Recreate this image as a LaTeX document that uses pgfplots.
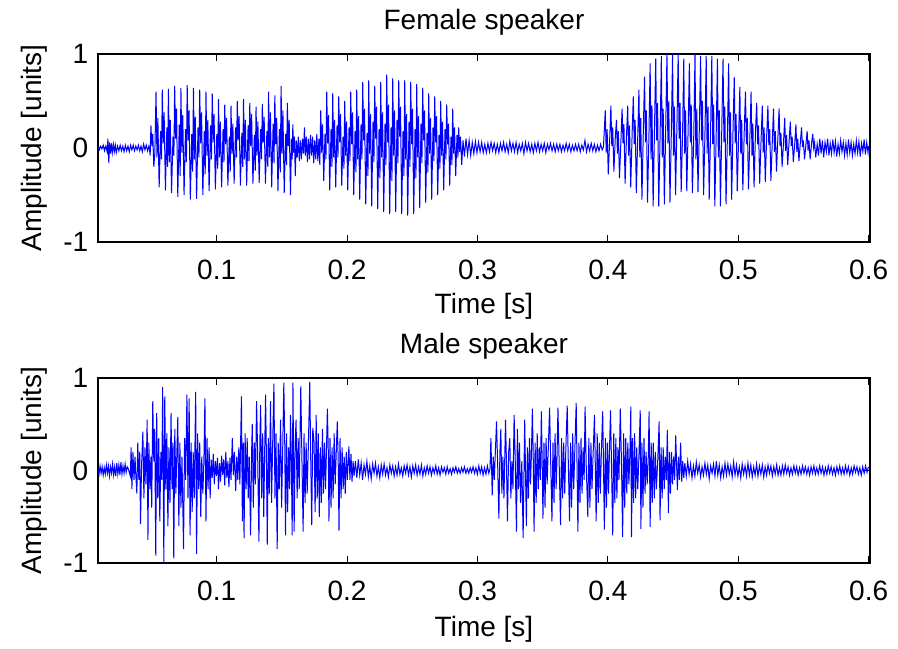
\documentclass[border=0pt]{standalone}
\usepackage{fontspec}
\setmainfont{Liberation Sans}
\usepackage{pgfplots}
\pgfplotsset{compat=1.18}
\pgfplotsset{speech/.style={
  scale only axis, width=386pt,
  xmin=9, xmax=601, ymin=-1, ymax=1,
  xtick={100,200,300,400,500,600}, xticklabels={0.1,0.2,0.3,0.4,0.5,0.6},
  ytick={-1,0,1},
  tick align=inside, major tick length=3.5pt,
  tick style={black, line width=0.5pt},
  axis line style={black, line width=0.6pt},
  /pgf/number format/assume math mode=true,
  tick label style={font=\fontsize{14}{16}\selectfont},
  xticklabel style={yshift=-4pt},
  label style={font=\fontsize{14}{16}\selectfont},
  title style={font=\fontsize{14}{16}\selectfont, at={(axis description cs:0.5,1)}, anchor=center, yshift=10pt},
  xlabel={Time [s]}, ylabel={Amplitude [units]},
  ylabel style={at={(axis description cs:-0.0829,0.5)}, anchor=center},
}}
\begin{document}
\fontsize{14}{16}\selectfont
\begin{tikzpicture}
\useasboundingbox (-49pt,-42.5pt) rectangle (400pt,281.5pt);
% ---------------- Female speaker ----------------
\begin{axis}[speech, at={(0,160.5pt)}, height=94pt, title={Female speaker},
  xlabel style={at={(axis description cs:0.5,0)}, anchor=center, yshift=-32pt}]
\addplot[blue, line width=0.5pt, no markers] table[row sep=\\] {
9.0 .01\\ 10.0 -.02\\ 11.0 .02\\ 12.0 -.01\\ 13.0 .03\\ 14.0 -.03\\ 15.0 .02\\ 16.0 -.04\\ 16.6 .10\\ 17.3 -.16\\
17.9 .06\\ 18.6 -.06\\ 19.3 .05\\ 20.0 -.05\\ 20.8 .04\\ 21.5 -.04\\ 22.3 .03\\ 23.0 -.05\\ 24.0 .02\\ 25.0 -.03\\
26.0 .03\\ 27.0 -.03\\ 28.0 .02\\ 29.0 -.04\\ 30.0 .03\\ 31.0 -.03\\ 32.0 .02\\ 33.0 -.04\\ 34.0 .03\\ 35.0 -.02\\
36.0 .03\\ 37.0 -.03\\ 38.0 .02\\ 39.0 -.02\\ 40.0 .03\\ 41.0 -.03\\ 42.0 .02\\ 43.0 -.04\\ 44.0 .04\\ 45.0 -.02\\
46.0 .03\\ 47.0 -.03\\ 48.0 .02\\
48.4 .00\\ 49.0 -.08\\ 49.6 .24\\ 50.3 .02\\ 51.0 .15\\ 51.8 -.20\\ 52.6 -.05\\
53.5 .60\\ 54.2 -.10\\ 54.9 .32\\ 55.9 -.42\\ 57.0 .18\\ 57.7 -.12\\
58.3 .62\\ 59.0 .05\\ 59.7 .38\\ 60.7 -.45\\ 61.8 .22\\ 62.4 -.20\\
63.0 .63\\ 63.7 -.15\\ 64.4 .30\\ 65.4 -.48\\ 66.5 .12\\ 67.2 -.08\\
67.8 .66\\ 68.5 .10\\ 69.2 .42\\ 70.2 -.52\\ 71.3 .25\\ 72.0 -.30\\
72.6 .64\\ 73.3 -.05\\ 74.0 .35\\ 75.0 -.50\\ 76.1 .20\\ 76.8 -.15\\
77.4 .67\\ 78.1 .08\\ 78.8 .40\\ 79.8 -.55\\ 80.9 .15\\ 81.6 -.25\\
82.2 .64\\ 82.9 -.12\\ 83.6 .33\\ 84.6 -.54\\ 85.7 .22\\ 86.4 -.10\\
87.0 .62\\ 87.7 .05\\ 88.4 .38\\ 89.4 -.50\\ 90.5 .18\\ 91.2 -.28\\
91.8 .60\\ 92.5 -.08\\ 93.2 .30\\ 94.2 -.46\\ 95.3 .24\\ 96.0 -.12\\
96.6 .58\\ 97.3 .06\\ 98.0 .36\\ 99.0 -.44\\ 100.1 .15\\ 100.8 -.22\\
101.4 .52\\ 102.1 -.10\\ 102.8 .28\\ 103.8 -.42\\ 104.9 .20\\ 105.6 -.15\\
106.2 .46\\ 106.9 .04\\ 107.6 .32\\ 108.6 -.40\\ 109.7 .12\\ 110.4 -.25\\
111.0 .45\\ 111.7 -.06\\ 112.4 .26\\ 113.4 -.38\\ 114.5 .22\\ 115.2 -.10\\
115.8 .50\\ 116.5 .08\\ 117.2 .34\\ 118.2 -.40\\ 119.3 .16\\ 120.0 -.20\\
120.6 .52\\ 121.3 -.12\\ 122.0 .30\\ 123.0 -.40\\ 124.1 .24\\ 124.8 -.14\\
125.4 .48\\ 126.1 .02\\ 126.8 .36\\ 127.8 -.38\\ 128.9 .14\\ 129.6 -.24\\
130.2 .44\\ 130.9 -.08\\ 131.6 .28\\ 132.6 -.37\\ 133.7 .20\\ 134.4 -.12\\
135.0 .47\\ 135.7 .06\\ 136.4 .33\\ 137.4 -.38\\ 138.5 .18\\ 139.2 -.20\\
139.8 .60\\ 140.5 -.10\\ 141.2 .38\\ 142.2 -.42\\ 143.3 .26\\ 144.0 -.16\\
144.6 .56\\ 145.3 .04\\ 146.0 .32\\ 147.0 -.46\\ 148.1 .20\\ 148.8 -.26\\
149.4 .66\\ 150.1 -.06\\ 150.8 .40\\ 151.8 -.48\\ 152.9 .15\\ 153.6 -.18\\
154.2 .48\\ 154.9 .02\\ 155.6 .30\\ 156.6 -.50\\ 157.4 .10\\ 157.9 -.12\\
158.4 .25\\ 159.0 -.05\\ 159.6 .12\\ 160.3 -.30\\ 161.0 .08\\
161.8 -.10\\ 162.6 .12\\ 163.4 -.14\\ 164.2 .08\\ 165.0 -.12\\ 165.8 .10\\ 166.6 -.06\\ 167.3 .22\\ 168.0 -.08\\ 168.8 .12\\
169.6 -.15\\ 170.4 .10\\ 171.2 -.12\\ 172.0 .14\\ 172.8 -.08\\ 173.6 .12\\ 174.4 -.16\\ 175.2 .08\\ 176.0 -.12\\ 176.8 .15\\
177.6 -.14\\ 178.4 .10\\ 179.1 -.18\\
179.8 .40\\ 180.5 -.05\\ 181.2 .25\\ 182.1 -.35\\ 183.1 .15\\ 183.8 -.12\\
184.4 .60\\ 185.1 .05\\ 185.8 .35\\ 186.7 -.45\\ 187.7 .20\\ 188.4 -.20\\
189.0 .58\\ 189.7 -.10\\ 190.4 .30\\ 191.3 -.42\\ 192.3 .24\\ 193.0 -.10\\
193.6 .55\\ 194.3 .06\\ 195.0 .36\\ 195.9 -.40\\ 196.9 .12\\ 197.6 -.22\\
198.2 .50\\ 198.9 -.08\\ 199.6 .28\\ 200.5 -.45\\ 201.5 .22\\ 202.2 -.14\\
202.8 .60\\ 203.5 .04\\ 204.2 .38\\ 205.1 -.50\\ 206.1 .18\\ 206.8 -.26\\
207.4 .62\\ 208.1 -.12\\ 208.8 .34\\ 209.7 -.55\\ 210.7 .25\\ 211.4 -.12\\
212.0 .70\\ 212.7 .08\\ 213.4 .42\\ 214.3 -.60\\ 215.3 .16\\ 216.0 -.30\\
216.6 .72\\ 217.3 -.06\\ 218.0 .36\\ 218.9 -.62\\ 219.9 .28\\ 220.6 -.15\\
221.2 .66\\ 221.9 .10\\ 222.6 .44\\ 223.5 -.65\\ 224.5 .20\\ 225.2 -.32\\
225.8 .70\\ 226.5 -.10\\ 227.2 .38\\ 228.1 -.68\\ 229.1 .26\\ 229.8 -.18\\
230.4 .78\\ 231.1 .06\\ 231.8 .46\\ 232.7 -.70\\ 233.7 .22\\ 234.4 -.35\\
235.0 .74\\ 235.7 -.08\\ 236.4 .40\\ 237.3 -.68\\ 238.3 .30\\ 239.0 -.16\\
239.6 .72\\ 240.3 .12\\ 241.0 .44\\ 241.9 -.70\\ 242.9 .18\\ 243.6 -.30\\
244.2 .72\\ 244.9 -.12\\ 245.6 .36\\ 246.5 -.72\\ 247.5 .28\\ 248.2 -.20\\
248.8 .70\\ 249.5 .04\\ 250.2 .42\\ 251.1 -.70\\ 252.1 .20\\ 252.8 -.32\\
253.4 .68\\ 254.1 -.10\\ 254.8 .34\\ 255.7 -.64\\ 256.7 .26\\ 257.4 -.16\\
258.0 .64\\ 258.7 .08\\ 259.4 .40\\ 260.3 -.58\\ 261.3 .16\\ 262.0 -.26\\
262.6 .58\\ 263.3 -.06\\ 264.0 .32\\ 264.9 -.55\\ 265.9 .22\\ 266.6 -.14\\
267.2 .55\\ 267.9 .06\\ 268.6 .34\\ 269.5 -.50\\ 270.5 .14\\ 271.2 -.22\\
271.8 .50\\ 272.5 -.08\\ 273.2 .28\\ 274.1 -.45\\ 275.1 .20\\ 275.8 -.12\\
276.4 .46\\ 277.1 .04\\ 277.8 .26\\ 278.7 -.40\\ 279.7 .12\\ 280.4 -.18\\
281.0 .42\\ 281.7 -.06\\ 282.4 .22\\ 283.3 -.30\\ 284.3 .14\\ 285.0 -.10\\
285.6 .22\\ 286.3 -.04\\ 287.0 .12\\ 287.9 -.18\\ 288.9 .08\\
290.0 -.09\\ 291.2 .10\\ 292.4 -.07\\ 293.6 .08\\ 294.8 -.08\\ 296.0 .06\\ 297.2 -.06\\ 298.4 .07\\ 299.6 -.05\\ 300.8 .06\\
302.0 -.04\\ 303.2 .06\\ 304.4 -.05\\ 305.6 .04\\ 306.8 -.05\\ 308.0 .05\\ 309.2 -.04\\ 310.4 .06\\ 311.6 -.03\\ 312.8 .05\\
314.0 -.05\\ 315.2 .04\\ 316.4 -.05\\ 317.6 .05\\ 318.8 -.03\\ 320.0 .06\\ 321.2 -.04\\ 322.4 .04\\ 323.6 -.05\\ 324.8 .07\\
326.0 -.03\\ 327.2 .05\\ 328.4 -.04\\ 329.6 .06\\ 330.8 -.05\\ 332.0 .04\\ 333.2 -.03\\ 334.4 .05\\ 335.6 -.06\\ 336.8 .06\\
338.0 -.03\\ 339.2 .05\\ 340.4 -.04\\ 341.6 .04\\ 342.8 -.05\\ 344.0 .05\\ 345.2 -.03\\ 346.4 .06\\ 347.6 -.04\\ 348.8 .04\\
350.0 -.03\\ 351.2 .05\\ 352.4 -.05\\ 353.6 .04\\ 354.8 -.02\\ 356.0 .05\\ 357.2 -.03\\ 358.4 .04\\ 359.6 -.04\\ 360.8 .04\\
362.0 -.03\\ 363.2 .04\\ 364.4 -.04\\ 365.6 .03\\ 366.8 -.03\\ 368.0 .05\\ 369.2 -.03\\ 370.4 .04\\ 371.6 -.04\\ 372.8 .03\\
374.0 -.03\\ 375.2 .04\\ 376.4 -.03\\ 377.6 .04\\ 378.8 -.04\\ 380.0 .03\\ 381.2 -.02\\ 382.4 .08\\ 383.6 -.04\\ 384.8 .04\\
386.0 -.03\\ 387.2 .05\\ 388.4 -.03\\ 389.6 .04\\ 390.8 -.04\\ 392.0 .03\\ 393.2 -.03\\ 394.4 .04\\ 395.6 -.02\\ 396.6 .01\\
398.0 .40\\ 398.7 -.05\\ 399.4 .20\\ 400.3 -.28\\ 401.4 .10\\
402.3 .45\\ 403.0 .02\\ 403.7 .22\\ 404.6 -.25\\ 405.7 .12\\
406.6 .30\\ 407.3 -.06\\ 408.0 .18\\ 408.9 -.32\\ 410.0 .08\\
410.9 .42\\ 411.6 .05\\ 412.3 .25\\ 413.2 -.38\\ 414.3 .14\\
415.2 .45\\ 415.9 -.08\\ 416.6 .24\\ 417.5 -.42\\ 418.6 .16\\
419.5 .55\\ 420.2 .04\\ 420.9 .30\\ 421.8 -.48\\ 422.9 .12\\
423.8 .62\\ 424.5 -.10\\ 425.2 .32\\ 426.1 -.55\\ 427.2 .20\\
428.1 .76\\ 428.8 .06\\ 429.5 .40\\ 430.4 -.58\\ 431.5 .15\\
432.4 .90\\ 433.1 -.12\\ 433.8 .45\\ 434.7 -.62\\ 435.8 .25\\
436.7 .95\\ 437.4 .08\\ 438.1 .48\\ 439.0 -.62\\ 440.1 .18\\
441.0 .98\\ 441.7 -.10\\ 442.4 .42\\ 443.3 -.60\\ 444.4 .26\\
445.3 1.00\\ 446.0 .05\\ 446.7 .50\\ 447.6 -.58\\ 448.7 .20\\
449.6 1.00\\ 450.3 -.08\\ 451.0 .44\\ 451.9 -.50\\ 453.0 .28\\
453.9 1.00\\ 454.6 .10\\ 455.3 .48\\ 456.2 -.47\\ 457.3 .18\\
458.2 .95\\ 458.9 -.06\\ 459.6 .40\\ 460.5 -.46\\ 461.6 .24\\
462.5 .90\\ 463.2 .06\\ 463.9 .46\\ 464.8 -.48\\ 465.9 .16\\
466.8 1.00\\ 467.5 -.12\\ 468.2 .42\\ 469.1 -.47\\ 470.2 .26\\
471.1 .98\\ 471.8 .08\\ 472.5 .50\\ 473.4 -.50\\ 474.5 .20\\
475.4 .98\\ 476.1 -.06\\ 476.8 .44\\ 477.7 -.55\\ 478.8 .22\\
479.7 .98\\ 480.4 .04\\ 481.1 .46\\ 482.0 -.62\\ 483.1 .18\\
484.0 .95\\ 484.7 -.10\\ 485.4 .40\\ 486.3 -.62\\ 487.4 .25\\
488.3 .95\\ 489.0 .06\\ 489.7 .44\\ 490.6 -.60\\ 491.7 .16\\
492.6 .90\\ 493.3 -.08\\ 494.0 .38\\ 494.9 -.55\\ 496.0 .22\\
496.9 .75\\ 497.6 .05\\ 498.3 .36\\ 499.2 -.46\\ 500.3 .15\\
501.2 .65\\ 501.9 -.06\\ 502.6 .30\\ 503.5 -.45\\ 504.6 .20\\
505.5 .60\\ 506.2 .04\\ 506.9 .32\\ 507.8 -.44\\ 508.9 .12\\
509.8 .60\\ 510.5 -.08\\ 511.2 .26\\ 512.1 -.42\\ 513.2 .18\\
514.1 .48\\ 514.8 .04\\ 515.5 .24\\ 516.4 -.38\\ 517.5 .10\\
518.4 .45\\ 519.1 -.05\\ 519.8 .22\\ 520.7 -.36\\ 521.8 .14\\
522.7 .45\\ 523.4 .03\\ 524.1 .20\\ 525.0 -.35\\ 526.1 .08\\
527.0 .42\\ 527.7 -.04\\ 528.4 .18\\ 529.3 -.25\\ 530.4 .12\\
531.3 .42\\ 532.0 .02\\ 532.7 .16\\ 533.6 -.20\\ 534.7 .06\\
535.6 .32\\ 536.3 -.03\\ 537.0 .14\\ 537.9 -.18\\ 539.0 .08\\
539.9 .28\\ 540.6 .02\\ 541.3 .12\\ 542.2 -.15\\ 543.3 .05\\
544.2 .25\\ 544.9 -.04\\ 545.6 .10\\ 546.5 -.14\\ 547.6 .06\\
548.5 .22\\ 549.2 .01\\ 549.9 .08\\ 550.8 -.12\\ 551.9 .04\\
552.8 .18\\ 553.5 -.03\\ 554.2 .08\\ 555.1 -.12\\ 556.2 .05\\
557.1 .15\\ 557.8 .00\\ 558.5 .06\\ 559.4 -.10\\ 560.5 .04\\
561.5 -.08\\ 562.5 .10\\ 563.5 -.06\\ 564.5 .08\\ 565.5 -.10\\ 566.5 .06\\ 567.5 -.04\\ 568.5 .10\\ 569.5 -.08\\ 570.5 .05\\
571.5 -.06\\ 572.5 .09\\ 573.5 -.05\\ 574.5 .07\\ 575.5 -.09\\ 576.5 .04\\ 577.5 -.06\\ 578.5 .08\\ 579.5 -.04\\ 580.5 .06\\
581.5 -.08\\ 582.5 .05\\ 583.5 -.07\\ 584.5 .09\\ 585.5 -.05\\ 586.5 .06\\ 587.5 -.08\\ 588.5 .04\\ 589.5 -.06\\ 590.5 .08\\
591.5 -.05\\ 592.5 .07\\ 593.5 -.09\\ 594.5 .05\\ 595.5 -.04\\ 596.5 .09\\ 597.5 -.07\\ 598.5 .06\\ 599.5 -.05\\ 600.0 .02\\
};
\end{axis}
% ---------------- Male speaker ----------------
\begin{axis}[speech, at={(0,0)}, height=92.5pt, title={Male speaker},
  xlabel style={at={(axis description cs:0.5,0)}, anchor=center, yshift=-33pt}]
\addplot[blue, line width=0.5pt, no markers] table[row sep=\\] {
9.0 .02\\ 9.8 -.04\\ 10.6 .05\\ 11.4 -.03\\ 12.2 .04\\ 13.0 -.05\\ 13.8 .03\\ 14.6 -.04\\ 15.4 .06\\ 16.2 -.03\\
17.0 .05\\ 17.8 -.06\\ 18.6 .04\\ 19.4 -.03\\ 20.2 .07\\ 21.0 -.05\\ 21.8 .04\\ 22.6 -.06\\ 23.4 .08\\ 24.2 -.04\\
25.0 .06\\ 25.8 -.05\\ 26.6 .09\\ 27.4 -.04\\ 28.2 .05\\ 29.0 -.03\\ 29.8 .07\\ 30.6 -.02\\ 31.4 .04\\ 32.2 .02\\
33.0 -.02\\ 33.8 -.06\\
34.4 .25\\ 35.0 -.20\\ 35.8 .20\\ 36.6 -.10\\ 37.4 .15\\ 38.0 -.05\\ 38.8 -.25\\
39.5 .30\\ 40.3 -.10\\ 41.0 .20\\ 41.6 -.58\\ 42.4 .05\\ 43.4 .42\\ 44.2 -.30\\ 45.0 .25\\ 45.8 -.15\\ 46.7 .55\\
47.3 -.75\\ 48.0 .30\\ 48.8 -.20\\ 49.6 .15\\ 50.2 -.40\\ 51.0 .75\\ 51.8 .10\\ 52.5 .45\\ 53.3 -.92\\ 54.0 .62\\
54.8 -.30\\ 55.6 .35\\ 56.4 -.55\\ 57.2 .20\\ 57.9 -.10\\ 58.6 .90\\ 59.5 -1.00\\ 60.2 .80\\ 61.0 -.20\\ 61.8 .40\\
62.6 -.60\\ 63.4 .25\\ 64.2 -.35\\ 65.0 .62\\ 65.8 -.20\\ 66.5 .30\\ 67.1 -.95\\ 67.9 .45\\ 68.7 -.25\\ 69.5 .20\\
70.2 .58\\ 71.0 -.60\\ 71.8 .30\\ 72.6 -.40\\ 73.4 .15\\ 74.6 -.85\\ 75.4 .35\\ 76.2 -.10\\ 77.2 .82\\ 78.0 -.30\\
78.9 .78\\ 79.6 -.70\\ 80.4 .30\\ 81.2 -.45\\ 82.0 .20\\ 82.8 -.30\\ 83.9 .85\\ 84.6 -.90\\ 85.4 .40\\ 86.2 -.20\\
87.0 .30\\ 87.8 -.50\\ 88.6 .15\\ 89.4 -.25\\ 90.2 .10\\ 91.0 .78\\ 91.8 -.55\\ 92.6 .35\\ 93.4 -.20\\ 94.2 .25\\
95.0 -.30\\
95.8 .12\\ 96.6 -.08\\ 97.4 .18\\ 98.2 -.15\\ 99.0 .10\\ 99.8 -.06\\ 100.6 .14\\ 101.4 -.20\\ 102.2 .08\\ 103.0 -.12\\
103.8 .16\\ 104.6 -.05\\ 105.4 .12\\ 106.2 -.16\\ 107.0 .20\\ 107.8 -.08\\ 108.6 .10\\ 109.4 -.18\\ 110.2 .14\\ 111.0 -.10\\
112.0 .35\\ 112.8 -.05\\ 113.6 .20\\ 114.6 -.22\\ 115.4 .15\\ 116.2 -.10\\ 117.0 .25\\ 117.8 -.15\\ 119.0 .80\\ 119.7 -.55\\
120.4 .30\\ 121.0 -.73\\ 121.8 .40\\ 122.6 -.20\\ 123.4 .35\\ 124.2 -.30\\ 125.0 .15\\ 126.0 -.70\\ 126.8 .20\\ 127.3 .50\\
128.1 -.40\\ 128.9 .30\\ 129.7 -.15\\ 130.6 .75\\ 131.4 .20\\ 132.4 -.77\\ 133.1 .30\\ 133.7 .71\\ 134.5 -.30\\ 135.3 .40\\
136.1 -.50\\ 136.8 .20\\ 137.5 .82\\ 138.2 .10\\ 138.8 -.80\\ 139.6 .35\\ 140.4 -.25\\ 141.3 .75\\ 142.1 -.35\\ 142.9 .25\\
143.9 .94\\ 144.7 -.30\\ 145.5 .40\\ 146.4 -.85\\ 147.2 .30\\ 148.0 -.20\\ 149.0 .55\\ 149.8 -.40\\ 150.6 .20\\ 151.5 .95\\
152.2 .30\\ 152.8 -.70\\ 153.6 .40\\ 154.4 -.45\\ 155.2 .25\\ 156.0 -.20\\ 156.6 .60\\ 157.3 .10\\ 157.9 -.70\\ 158.5 .95\\
159.4 -.66\\ 160.2 .30\\ 160.9 .55\\ 161.7 -.30\\ 162.5 .35\\ 163.3 -.20\\ 164.5 .91\\ 165.3 .20\\ 166.3 -.66\\ 167.0 .40\\
167.8 -.35\\ 168.6 .30\\ 169.4 -.25\\ 170.2 .20\\ 171.4 .96\\ 172.1 .15\\ 172.9 -.59\\ 173.7 .46\\ 174.7 .30\\ 175.5 -.45\\
176.3 .60\\ 177.1 -.30\\ 177.9 .40\\ 178.7 -.50\\ 179.5 .25\\ 180.3 -.35\\ 181.1 .45\\ 181.9 -.25\\ 182.7 .30\\ 183.5 -.20\\
184.9 .67\\ 185.6 .20\\ 186.1 -.55\\ 186.9 .35\\ 187.7 -.40\\ 188.5 .25\\ 189.3 -.30\\ 190.1 .40\\ 190.9 -.15\\ 191.7 .20\\
192.5 .53\\ 193.2 .10\\ 193.8 -.65\\ 194.6 .35\\ 195.4 -.30\\ 196.2 .25\\ 197.0 -.20\\ 197.8 .15\\ 198.6 -.25\\ 199.4 .20\\
200.2 -.10\\ 201.4 .26\\ 202.2 -.10\\ 203.0 .18\\ 203.8 -.12\\ 204.6 .10\\ 205.4 -.06\\
206.4 .10\\ 207.5 -.08\\ 208.6 .12\\ 209.7 -.05\\ 210.8 .08\\ 211.9 -.10\\ 213.0 .06\\ 214.1 -.04\\ 215.2 .10\\ 216.3 -.07\\
217.4 .05\\ 218.5 -.09\\ 219.6 .07\\ 220.7 -.03\\ 221.8 .08\\ 222.9 -.06\\ 224.0 .04\\ 225.1 -.08\\ 226.2 .06\\ 227.3 -.04\\
228.4 .07\\ 229.5 -.05\\ 230.6 .03\\ 231.7 -.07\\ 232.8 .06\\ 233.9 -.03\\ 235.0 .05\\ 236.1 -.06\\ 237.2 .04\\ 238.3 -.05\\
239.4 .07\\ 240.5 -.04\\ 241.6 .03\\ 242.7 -.06\\ 243.8 .05\\ 244.9 -.03\\ 246.0 .06\\ 247.1 -.05\\ 248.2 .04\\ 249.3 -.07\\
250.4 .05\\ 251.5 -.03\\ 252.6 .06\\ 253.7 -.05\\ 254.8 .04\\ 255.9 -.04\\ 257.0 .06\\ 258.1 -.06\\ 259.2 .03\\ 260.3 -.04\\
261.4 .05\\ 262.5 -.03\\ 263.6 .04\\ 264.7 -.05\\ 265.8 .03\\ 266.9 -.03\\ 268.0 .05\\ 269.1 -.04\\ 270.2 .03\\ 271.3 -.05\\
272.4 .04\\ 273.5 -.02\\ 274.6 .03\\ 275.7 -.04\\ 276.8 .04\\ 277.9 -.03\\ 279.0 .02\\ 280.1 -.04\\ 281.2 .03\\ 282.3 -.02\\
283.4 .04\\ 284.5 -.03\\ 285.6 .02\\ 286.7 -.03\\ 287.8 .03\\ 288.9 -.02\\ 290.0 .04\\ 291.1 -.03\\ 292.2 .02\\ 293.3 -.03\\
294.4 .03\\ 295.5 -.02\\ 296.6 .04\\ 297.7 -.03\\ 298.8 .03\\ 299.9 -.04\\ 301.0 .05\\ 302.1 -.03\\ 303.2 .04\\ 304.3 -.05\\
305.4 .03\\ 306.5 -.04\\ 307.6 .05\\ 308.7 -.03\\ 309.6 .02\\
310.3 .35\\ 311.3 -.27\\ 312.1 .15\\ 312.9 -.10\\ 313.7 .20\\ 314.6 .53\\ 315.5 .05\\ 316.4 -.52\\ 317.2 .20\\ 317.9 .45\\
318.7 -.25\\ 319.5 .15\\ 320.3 -.30\\ 321.5 .55\\ 322.2 .10\\ 323.0 -.55\\ 323.9 .20\\ 324.8 .35\\ 325.6 -.30\\ 326.4 .10\\
327.2 -.20\\ 328.1 .60\\ 328.9 .15\\ 329.9 -.66\\ 330.6 .45\\ 331.4 -.20\\ 332.2 .30\\ 333.0 -.35\\ 334.0 .10\\ 335.0 -.73\\
336.2 .55\\ 337.5 -.60\\ 338.3 .25\\ 339.1 -.30\\ 339.9 .35\\ 340.7 -.15\\ 341.4 .20\\ 342.1 .67\\ 342.8 .10\\ 343.4 -.66\\
344.2 .30\\ 345.0 -.35\\ 345.8 .40\\ 346.6 -.20\\ 347.4 .25\\ 348.2 -.10\\ 349.0 .64\\ 349.6 .10\\ 350.2 -.52\\ 351.0 .30\\
351.8 -.40\\ 352.6 .35\\ 353.4 -.15\\ 354.2 .20\\ 355.3 .68\\ 356.2 .05\\ 357.1 -.55\\ 357.9 .30\\ 358.7 -.35\\ 359.5 .40\\
360.3 -.20\\ 361.0 .15\\ 361.7 .68\\ 362.6 .10\\ 363.7 -.59\\ 364.5 .35\\ 365.3 -.30\\ 366.1 .30\\ 366.9 -.25\\ 367.7 .20\\
368.8 .70\\ 369.6 .12\\ 370.6 -.55\\ 371.4 .30\\ 372.2 -.40\\ 373.0 .40\\ 373.8 -.20\\ 374.6 .20\\ 375.7 .73\\ 376.3 .10\\
377.0 -.66\\ 377.8 .30\\ 378.6 -.35\\ 379.4 .35\\ 380.2 -.25\\ 381.0 .25\\ 381.8 -.10\\ 382.5 .69\\ 383.4 .05\\ 384.6 -.50\\
385.4 .35\\ 386.2 -.40\\ 387.0 .30\\ 387.8 -.20\\ 388.6 .15\\ 389.7 .60\\ 390.3 .10\\ 391.0 -.55\\ 391.8 .40\\ 392.6 -.35\\
393.4 .30\\ 394.2 -.25\\ 395.0 .20\\ 396.0 .64\\ 396.6 .10\\ 397.3 -.64\\ 398.1 .35\\ 398.9 -.40\\ 399.7 .30\\ 400.5 -.25\\
401.2 .20\\ 402.0 .65\\ 402.8 .05\\ 403.7 -.70\\ 404.5 .40\\ 405.3 -.35\\ 406.1 .35\\ 406.9 -.30\\ 407.7 .25\\ 408.5 -.10\\
409.5 .67\\ 410.4 .10\\ 411.3 -.72\\ 412.1 .40\\ 412.9 -.40\\ 413.7 .35\\ 414.5 -.25\\ 415.3 .30\\ 416.1 -.15\\ 416.9 .20\\
417.6 .69\\ 418.1 -.72\\ 418.9 .35\\ 419.7 -.35\\ 420.5 .40\\ 421.3 -.30\\ 422.1 .25\\ 422.9 -.20\\ 423.8 .15\\ 424.8 .65\\
425.3 -.63\\ 426.1 .30\\ 426.9 -.40\\ 427.7 .35\\ 428.5 -.25\\ 429.3 .20\\ 430.1 -.15\\ 430.9 .10\\ 431.6 .64\\ 432.4 -.61\\
433.2 .30\\ 434.0 -.35\\ 434.8 .30\\ 435.6 -.30\\ 436.4 .20\\ 437.2 -.20\\ 438.2 .10\\ 439.3 .53\\ 440.0 -.54\\ 440.8 .25\\
441.6 -.30\\ 442.4 .25\\ 443.2 -.20\\ 444.0 .15\\ 444.8 -.10\\ 445.6 .44\\ 446.4 -.46\\ 447.2 .20\\ 448.0 -.25\\ 448.8 .20\\
449.6 -.15\\ 450.4 .15\\ 451.2 -.10\\ 452.0 .38\\ 453.3 -.21\\ 454.1 .15\\ 454.9 -.10\\ 455.8 .30\\ 456.6 -.12\\ 457.4 .10\\
458.2 -.08\\
459.0 .08\\ 460.1 -.06\\ 461.2 .10\\ 462.3 -.04\\ 463.4 .07\\ 464.5 -.08\\ 465.6 .05\\ 466.7 -.06\\ 467.8 .09\\ 468.9 -.03\\
470.0 .06\\ 471.1 -.07\\ 472.2 .04\\ 473.3 -.05\\ 474.4 .08\\ 475.5 -.04\\ 476.6 .06\\ 477.7 -.09\\ 478.8 .05\\ 479.9 -.03\\
481.0 .07\\ 482.1 -.06\\ 483.2 .10\\ 484.3 -.05\\ 485.4 .06\\ 486.5 -.08\\ 487.6 .04\\ 488.7 -.06\\ 489.8 .08\\ 490.9 -.05\\
492.0 .07\\ 493.1 -.04\\ 494.2 .05\\ 495.3 -.07\\ 496.4 .09\\ 497.5 -.05\\ 498.6 .06\\ 499.7 -.06\\ 500.8 .04\\ 501.9 -.08\\
503.0 .07\\ 504.1 -.04\\ 505.2 .05\\ 506.3 -.06\\ 507.4 .08\\ 508.5 -.05\\ 509.6 .06\\ 510.7 -.07\\ 511.8 .04\\ 512.9 -.05\\
514.0 .07\\ 515.1 -.06\\ 516.2 .05\\ 517.3 -.04\\ 518.4 .06\\ 519.5 -.07\\ 520.6 .04\\ 521.7 -.05\\ 522.8 .06\\ 523.9 -.03\\
525.0 .05\\ 526.1 -.06\\ 527.2 .04\\ 528.3 -.04\\ 529.4 .06\\ 530.5 -.05\\ 531.6 .03\\ 532.7 -.05\\ 533.8 .05\\ 534.9 -.04\\
536.0 .06\\ 537.1 -.03\\ 538.2 .04\\ 539.3 -.05\\ 540.4 .03\\ 541.5 -.04\\ 542.6 .05\\ 543.7 -.03\\ 544.8 .04\\ 545.9 -.05\\
547.0 .03\\ 548.1 -.04\\ 549.2 .05\\ 550.3 -.03\\ 551.4 .04\\ 552.5 -.04\\ 553.6 .03\\ 554.7 -.05\\ 555.8 .04\\ 556.9 -.03\\
558.0 .05\\ 559.1 -.04\\ 560.2 .03\\ 561.3 -.04\\ 562.4 .05\\ 563.5 -.03\\ 564.6 .04\\ 565.7 -.05\\ 566.8 .03\\ 567.9 -.04\\
569.0 .05\\ 570.1 -.03\\ 571.2 .04\\ 572.3 -.04\\ 573.4 .03\\ 574.5 -.05\\ 575.6 .04\\ 576.7 -.03\\ 577.8 .05\\ 578.9 -.04\\
580.0 .03\\ 581.1 -.04\\ 582.2 .05\\ 583.3 -.03\\ 584.4 .04\\ 585.5 -.05\\ 586.6 .03\\ 587.7 -.04\\ 588.8 .05\\ 589.9 -.02\\
591.0 .04\\ 592.1 -.04\\ 593.2 .03\\ 594.3 -.05\\ 595.4 .04\\ 596.5 -.03\\ 597.6 .05\\ 598.7 -.02\\ 599.8 .04\\
};
\end{axis}
\end{tikzpicture}
\end{document}
